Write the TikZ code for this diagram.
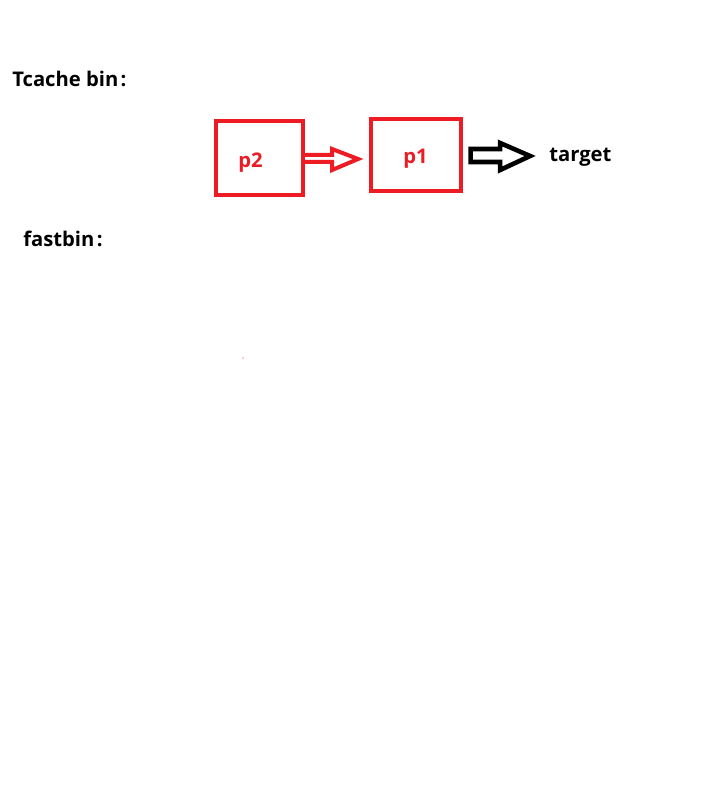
\documentclass[tikz,border=0pt]{standalone}
\usepackage{fontspec}
\setmainfont{Open Sans}
\usetikzlibrary{positioning,calc}
\definecolor{paintred}{HTML}{ED1C24}

\begin{document}
\begin{tikzpicture}[x=0.02cm,y=-0.02cm,
	binbox/.style={draw=paintred,line width=4.2*0.02cm,inner sep=0pt},
	bintext/.style={anchor=base west,inner sep=0pt,font=\fontsize{11.5}{14}\selectfont\bfseries},
	]
	\useasboundingbox (0,0) rectangle (700,800);
	
	% headings
	\node[bintext] (tcache) at (12,87) {Tcache bin\hspace{0.12em}:};
	\node[bintext] (fastbin) at (23,247) {fastbin\hspace{0.12em}:};
	
	% the tcache list: p2 -> p1 -> target
	\node[binbox,minimum width=87*0.02cm,minimum height=74*0.02cm] (p2box) at (259.5,158) {};
	\node[binbox,minimum width=90*0.02cm,minimum height=72*0.02cm] (p1box) at (416,155) {};
	\node[bintext,text=paintred] (p2) at (238,168) {p2};
	\node[bintext,text=paintred] (p1) at (403,164) {p1};
	\node[bintext] (target) at (549,162) {target};
	
	% hollow arrows (drawn as outlines)
	\draw[paintred,line width=4*0.02cm] (p2box.east) ++(-2,-3) -- ++(29,0) -- ++(0,-6)
		-- ++(26,10) -- ++(-26,11) -- ++(0,-8) -- ++(-29,0);
	\draw[black,line width=4.6*0.02cm] (p1box.east) ++(7.5,-6) -- ++(29.5,0) -- ++(0,-6)
		-- ++(30,13) -- ++(-30,14) -- ++(0,-8) -- ++(-29.5,0) -- cycle;
	
	\fill[paintred] (243,358) circle (0.6);
	
\end{tikzpicture}
\end{document}
